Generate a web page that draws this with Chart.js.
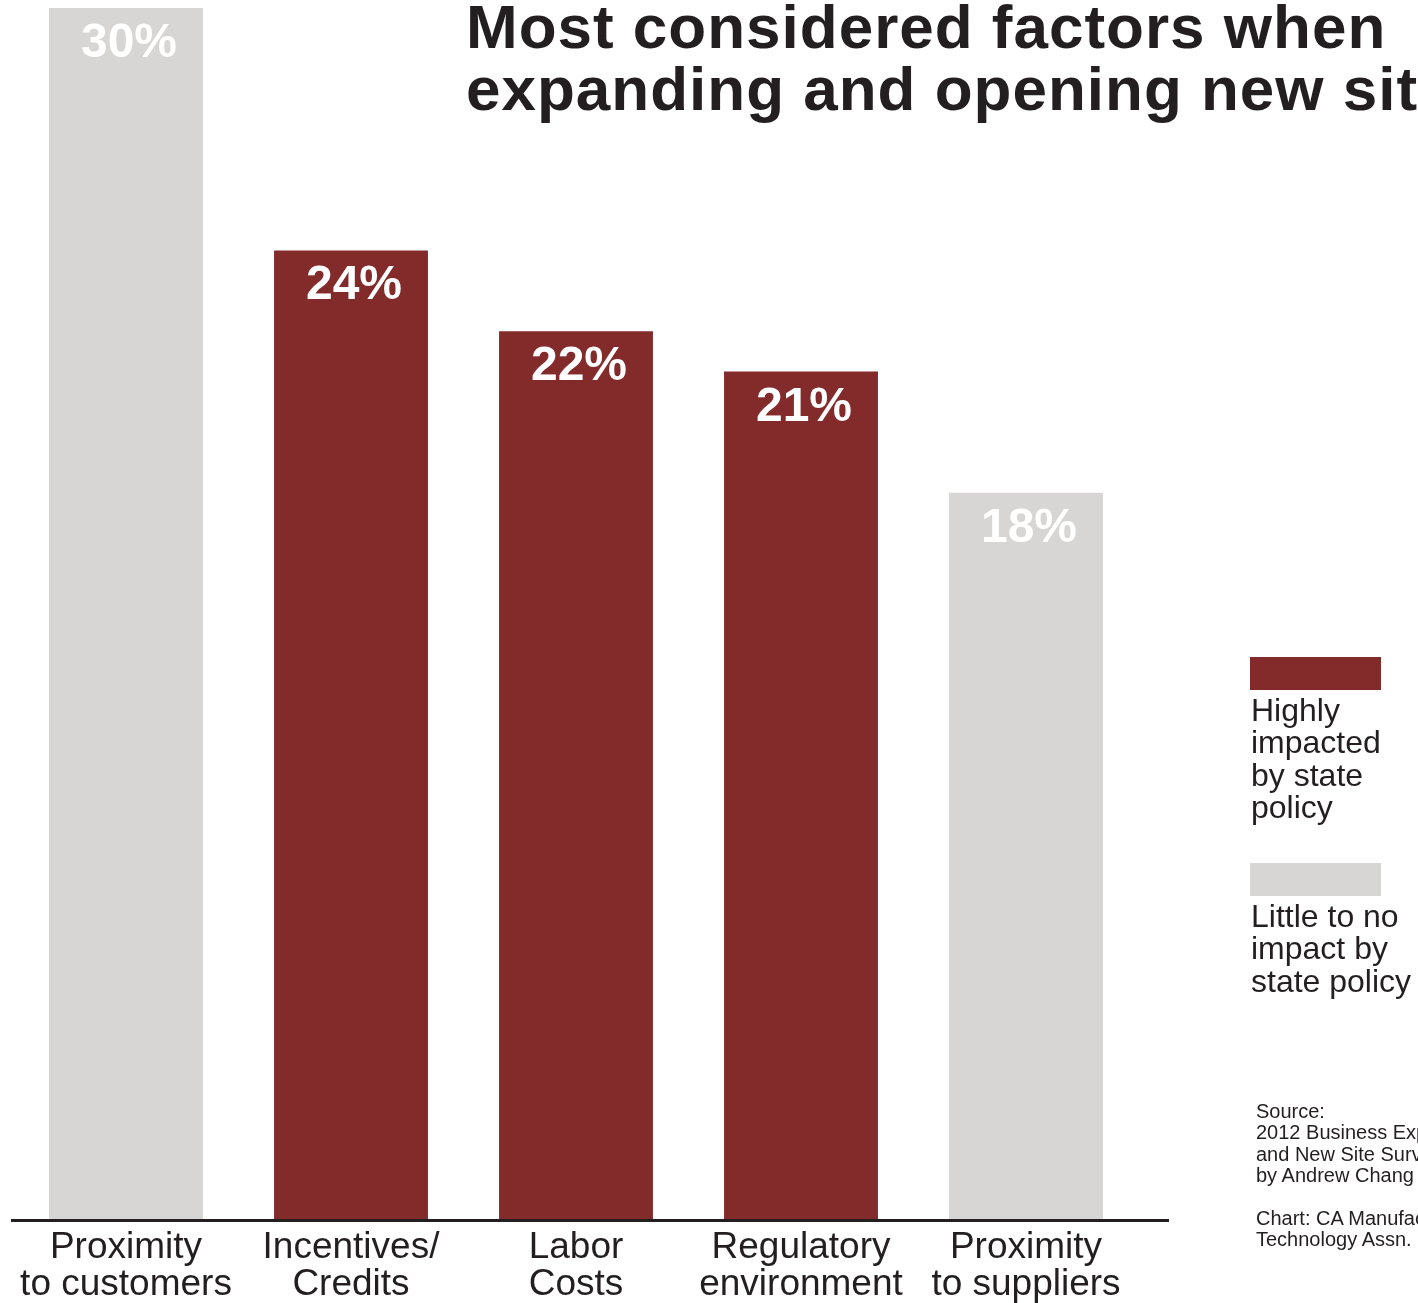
<!DOCTYPE html>
<html>
<head>
<meta charset="utf-8">
<script src="https://cdn.jsdelivr.net/npm/chart.js@4/dist/chart.umd.min.js"></script>
<style>
  html, body { margin: 0; padding: 0; background: #fff; }
  #wrap { position: relative; width: 1418px; height: 1303px; overflow: hidden; font-family: "Liberation Sans", Arial, sans-serif; color: #231f20; }
  #chart { position: absolute; left: 0; top: 0; }
  #title { position: absolute; left: 466px; top: -4px; font-size: 62px; line-height: 62px; font-weight: bold; letter-spacing: 1px; white-space: nowrap; color: #231f20; }
  .key { position: absolute; left: 1250px; width: 131px; height: 33px; }
  .keytext { position: absolute; left: 1251px; font-size: 32px; line-height: 32.3px; white-space: nowrap; }
  #source { position: absolute; left: 1256px; top: 1101px; font-size: 20px; line-height: 21.4px; white-space: nowrap; }
</style>
</head>
<body>
<div id="wrap">
  <canvas id="chart" width="1418" height="1316"></canvas>
  <div id="title">Most considered factors when<br>expanding and opening new sites</div>
  <div id="legend"></div>
  <div id="source">Source:<br>2012 Business Expansion<br>and New Site Survey<br>by Andrew Chang<br><br>Chart: CA Manufacturers &amp;<br>Technology Assn.</div>
</div>
<script>
// values
var factors = [
  ["Proximity", "to customers"],
  ["Incentives/", "Credits"],
  ["Labor", "Costs"],
  ["Regulatory", "environment"],
  ["Proximity", "to suppliers"]
];
var shares = [30, 24, 22, 21, 18];
var policyImpact = ["low", "high", "high", "high", "low"];

var groups = [
  { key: "high", label: ["Highly", "impacted", "by state", "policy"], color: "#832a2b", top: 657, textTop: 694 },
  { key: "low", label: ["Little to no", "impact by", "state policy"], color: "#d7d6d4", top: 863, textTop: 900 }
];

var datasets = groups.map(function (g) {
  return {
    label: g.label.join(" "),
    data: shares.map(function (v, i) { return policyImpact[i] == g.key ? v : null }),
    backgroundColor: g.color,
    barPercentage: 0.684,
    categoryPercentage: 1.0,
    stack: "one"
  }
});

// percent labels inside the bar tops
var barLabels = {
  id: "barLabels",
  afterDatasetsDraw: function (chart) {
    var ctx = chart.ctx;
    ctx.save();
    ctx.fillStyle = "#ffffff";
    ctx.font = "bold 48px 'Liberation Sans', Arial, sans-serif";
    ctx.textAlign = "center";
    ctx.textBaseline = "alphabetic";
    chart.data.datasets.forEach(function (ds, di) {
      chart.getDatasetMeta(di).data.forEach(function (bar, i) {
        if (ds.data[i] == null) return;
        ctx.fillText(ds.data[i] + "%", bar.x + 3, bar.y + 49);
      });
    });
    ctx.restore();
  }
};

// baseline runs a little past the plot on both sides
var baseLine = {
  id: "baseLine",
  afterDraw: function (chart) {
    var ctx = chart.ctx, a = chart.chartArea;
    ctx.save();
    ctx.strokeStyle = "#231f20";
    ctx.lineWidth = 3;
    ctx.beginPath();
    ctx.moveTo(a.left - 2.5, a.bottom + 0.5);
    ctx.lineTo(a.right + 30.5, a.bottom + 0.5);
    ctx.stroke();
    ctx.restore();
  }
};

new Chart(document.getElementById("chart").getContext("2d"), {
  type: "bar",
  data: { labels: factors, datasets: datasets },
  options: {
    responsive: false,
    animation: false,
    devicePixelRatio: 1,
    layout: { padding: { left: 13.5, right: 279.5, top: 8, bottom: 4 } },
    plugins: {
      legend: { display: false },
      tooltip: { enabled: false },
      title: { display: false }
    },
    scales: {
      x: {
        stacked: true,
        grid: { display: false, drawTicks: false },
        border: { display: false },
        ticks: {
          color: "#231f20",
          font: { family: "'Liberation Sans', Arial, sans-serif", size: 37, lineHeight: 1.0 },
          padding: 9,
          maxRotation: 0,
          autoSkip: false
        }
      },
      y: {
        stacked: true,
        display: false,
        min: 0,
        max: 30
      }
    }
  },
  plugins: [barLabels, baseLine]
});

// legend: box above wrapped text
var legend = document.getElementById("legend");
groups.forEach(function (g) {
  legend.innerHTML += `
    <div class="key" style="top:${g.top}px;background:${g.color}"></div>
    <div class="keytext" style="top:${g.textTop}px">${g.label.join("<br>")}</div>`;
});
</script>
</body>
</html>
